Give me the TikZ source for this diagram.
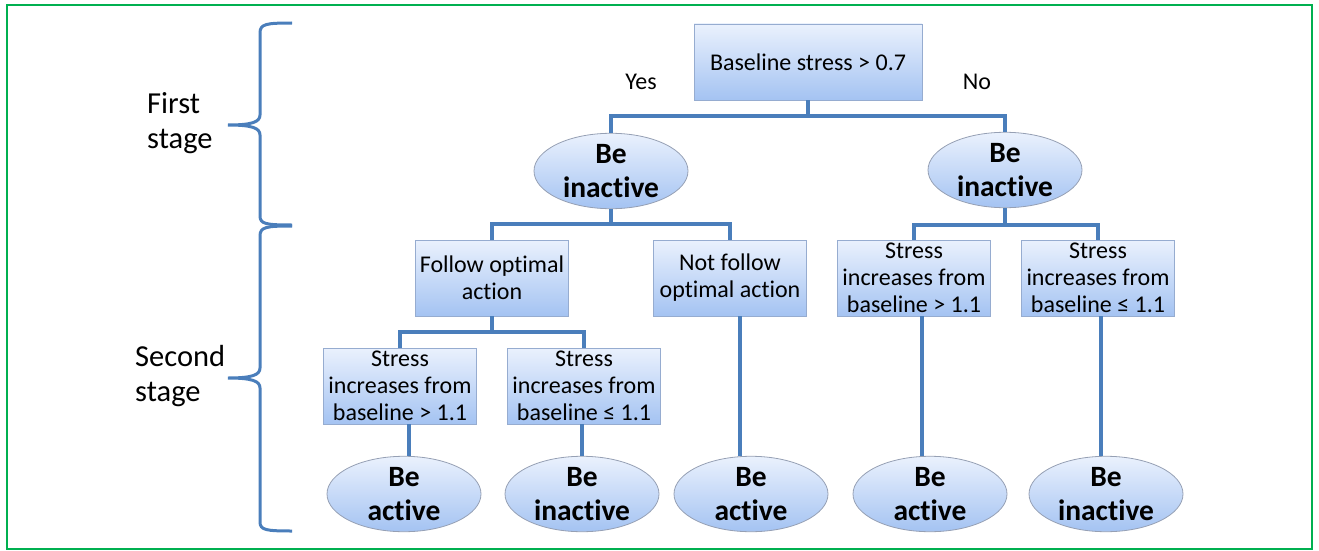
\documentclass[tikz,border=0pt]{standalone}
\usepackage{fontspec}
\setmainfont{Carlito}[Ligatures = NoCommon]
\usepackage{xcolor}
\usepackage{tikz}
\usetikzlibrary{shapes,calc}
\definecolor{linkblue}{RGB}{74,126,187}
\definecolor{boxtop}{RGB}{234,241,253}
\definecolor{boxbot}{RGB}{164,195,242}
\definecolor{boxline}{RGB}{150,172,208}
\definecolor{ovalline}{RGB}{150,160,180}
\definecolor{framegreen}{RGB}{0,176,80}

\begin{document}
\begin{tikzpicture}[x = 1pt, y = -1pt,
    box/.style = {draw = boxline, line width = .8pt, top color = boxtop, bottom color = boxbot,
      inner sep = 1pt, align = center, minimum width = 153pt, minimum height = 76pt,
      font = \fontsize{24}{27}\selectfont},
    oval/.style = {ellipse, draw = ovalline, line width = .8pt, top color = boxtop, bottom color = boxbot,
      inner sep = 0pt, align = center, minimum width = 154pt, minimum height = 75pt,
      font = \bfseries\fontsize{29.5}{34}\selectfont},
    branch/.style = {font = \fontsize{24}{27}\selectfont},
    stage/.style = {anchor = west, inner sep = 0pt, align = left, font = \fontsize{30.5}{35}\selectfont},
    link/.style = {draw = linkblue, line width = 4pt},
    stagebrace/.style = {draw = linkblue, line width = 3pt}]
    \useasboundingbox (0,0) rectangle (1319,551);
    \draw[framegreen, line width = 2pt] (7,5) rectangle (1312,549);

    % first stage
    \node[box, minimum width = 228pt] (root) at (808,62) {Baseline stress > 0.7};
    \node[branch] (yes) at (641,82) {Yes};
    \node[branch] (no) at (977,82) {No};
    \node[oval] (be1) at (611,171) {Be\\inactive};
    \node[oval] (be2) at (1005,170) {Be\\inactive};

    % second stage
    \node[box] (follow) at (492,278) {Follow optimal\\action};
    \node[box] (notfollow) at (730,278) {Not follow\\optimal action};
    \node[box] (sr1) at (914,278) {Stress\\increases from\\baseline > 1.1};
    \node[box] (sr2) at (1098,278) {Stress\\increases from\\baseline ≤ 1.1};
    \node[box] (sl1) at (400,386) {Stress\\increases from\\baseline > 1.1};
    \node[box] (sl2) at (584,386) {Stress\\increases from\\baseline ≤ 1.1};

    \node[oval] (a1) at (404,494) {Be\\active};
    \node[oval] (a2) at (582,494) {Be\\inactive};
    \node[oval] (a3) at (751,494) {Be\\active};
    \node[oval] (a4) at (930,494) {Be\\active};
    \node[oval] (a5) at (1106,494) {Be\\inactive};

    % tree links
    \coordinate (j0) at ($(root.south)+(0,16)$);
    \coordinate (j1) at ($(be1.south)+(0,15)$);
    \coordinate (j2) at ($(be2.south)+(0,17)$);
    \coordinate (j3) at ($(follow.south)+(0,16)$);
    \draw[link] (root.south) -- (j0);
    \draw[link] (be1.north) |- (j0) -| (be2.north);
    \draw[link] (be1.south) -- (j1);
    \draw[link] (follow.north) |- (j1) -| (notfollow.north);
    \draw[link] (be2.south) -- (j2);
    \draw[link] (sr1.north) |- (j2) -| (sr2.north);
    \draw[link] (follow.south) -- (j3);
    \draw[link] (sl1.north) |- (j3) -| (sl2.north);
    \draw[link] ([xshift=5pt]a1.north) -- ([xshift=5pt]a1.north |- sl1.south);
    \draw[link] (a2.north) -- (a2.north |- sl2.south);
    \draw[link] ([xshift=-11pt]a3.north) -- ([xshift=-11pt]a3.north |- notfollow.south);
    \draw[link] ([xshift=-8pt]a4.north) -- ([xshift=-8pt]a4.north |- sr1.south);
    \draw[link] ([xshift=-5pt]a5.north) -- ([xshift=-5pt]a5.north |- sr2.south);

    % stage braces
    \node[stage] (first) at (147,123) {First\\stage};
    \node[stage] (second) at (135,376) {Second\\stage};
    \draw[stagebrace] (292,23) .. controls (266,23) and (260,24) .. (260,33) -- (260,115)
      .. controls (260,122) and (252,125) .. (228,125) .. controls (252,125) and (260,128) .. (260,135)
      -- (260,216) .. controls (260,224) and (266,225) .. (292,225);
    \draw[stagebrace] (292,226) .. controls (266,226) and (260,227) .. (260,236) -- (260,368)
      .. controls (260,375) and (252,378) .. (228,378) .. controls (252,378) and (260,381) .. (260,388)
      -- (260,522) .. controls (260,530) and (266,531) .. (292,531);
\end{tikzpicture}
\end{document}
